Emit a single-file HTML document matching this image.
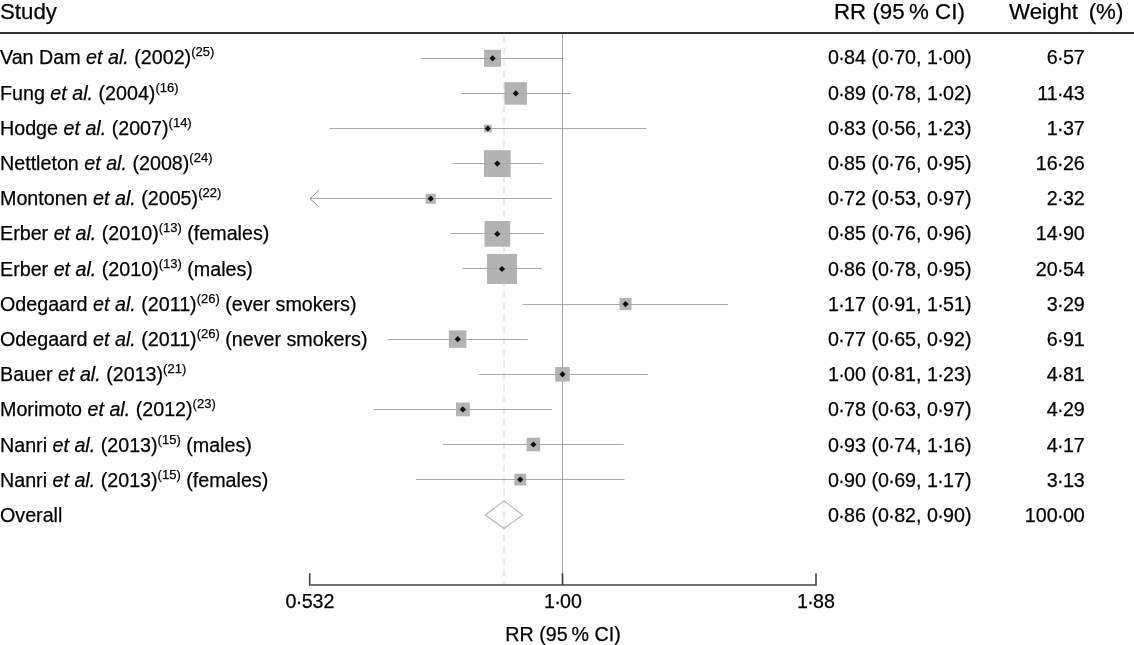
<!DOCTYPE html>
<html><head><meta charset="utf-8"><style>
html,body{margin:0;padding:0;background:#fff;width:1134px;height:645px;overflow:hidden}
svg{display:block;will-change:transform}
text{font-family:"Liberation Sans",sans-serif;fill:#000;stroke:#000;stroke-width:0.25px}
.t{font-size:19.7px}
.h{font-size:22.3px}
.s{font-size:13px}
</style></head><body>
<svg width="1134" height="645" viewBox="0 0 1134 645">
<text x="0" y="19" class="h">Study</text>
<text x="834" y="19" class="h">RR (95&#8201;% CI)</text>
<text x="1009" y="19" class="h">Weight&#8201; (%)</text>
<rect x="0" y="32" width="1134" height="2" fill="#333"/>
<rect x="562.0" y="34" width="1" height="551" fill="#aaa"/>
<line x1="504" y1="36" x2="504" y2="584" stroke="#d4d4d4" stroke-width="1" stroke-dasharray="7,4.6"/>
<text x="0" y="64.3" class="t">Van Dam <tspan font-style="italic">et al.</tspan> (2002)<tspan class="s" dy="-8">(25)</tspan><tspan dy="8"></tspan></text>
<text x="828" y="64.3" class="t">0<tspan dx="-0.7">·</tspan><tspan dx="-0.7">84 (0</tspan><tspan dx="-0.7">·</tspan><tspan dx="-0.7">70, 1</tspan><tspan dx="-0.7">·</tspan><tspan dx="-0.7">00)</tspan></text>
<text x="1084.8" y="64.3" class="t" text-anchor="end">6<tspan dx="-0.7">·</tspan><tspan dx="-0.7">57</tspan></text>
<rect x="484.0" y="49.8" width="17.0" height="17.0" fill="#b3b3b3"/>
<rect x="420.8" y="58" width="142.7" height="1" fill="#aaa"/>
<path d="M489.5 58.3 L492.6 55.2 L495.7 58.3 L492.6 61.4 Z" fill="#111"/>
<text x="0" y="99.5" class="t">Fung <tspan font-style="italic">et al.</tspan> (2004)<tspan class="s" dy="-8">(16)</tspan><tspan dy="8"></tspan></text>
<text x="828" y="99.5" class="t">0<tspan dx="-0.7">·</tspan><tspan dx="-0.7">89 (0</tspan><tspan dx="-0.7">·</tspan><tspan dx="-0.7">78, 1</tspan><tspan dx="-0.7">·</tspan><tspan dx="-0.7">02)</tspan></text>
<text x="1084.8" y="99.5" class="t" text-anchor="end">11<tspan dx="-0.7">·</tspan><tspan dx="-0.7">43</tspan></text>
<rect x="504.5" y="82.2" width="22.5" height="22.5" fill="#b3b3b3"/>
<rect x="461.7" y="93" width="108.6" height="1" fill="#aaa"/>
<path d="M512.7 93.4 L515.8 90.3 L518.9 93.4 L515.8 96.5 Z" fill="#111"/>
<text x="0" y="134.7" class="t">Hodge <tspan font-style="italic">et al.</tspan> (2007)<tspan class="s" dy="-8">(14)</tspan><tspan dy="8"></tspan></text>
<text x="828" y="134.7" class="t">0<tspan dx="-0.7">·</tspan><tspan dx="-0.7">83 (0</tspan><tspan dx="-0.7">·</tspan><tspan dx="-0.7">56, 1</tspan><tspan dx="-0.7">·</tspan><tspan dx="-0.7">23)</tspan></text>
<text x="1084.8" y="134.7" class="t" text-anchor="end">1<tspan dx="-0.7">·</tspan><tspan dx="-0.7">37</tspan></text>
<rect x="483.9" y="124.6" width="7.8" height="7.8" fill="#b3b3b3"/>
<rect x="329.5" y="128" width="316.8" height="1" fill="#aaa"/>
<path d="M484.7 128.5 L487.8 125.4 L490.9 128.5 L487.8 131.6 Z" fill="#111"/>
<text x="0" y="169.9" class="t">Nettleton <tspan font-style="italic">et al.</tspan> (2008)<tspan class="s" dy="-8">(24)</tspan><tspan dy="8"></tspan></text>
<text x="828" y="169.9" class="t">0<tspan dx="-0.7">·</tspan><tspan dx="-0.7">85 (0</tspan><tspan dx="-0.7">·</tspan><tspan dx="-0.7">76, 0</tspan><tspan dx="-0.7">·</tspan><tspan dx="-0.7">95)</tspan></text>
<text x="1084.8" y="169.9" class="t" text-anchor="end">16<tspan dx="-0.7">·</tspan><tspan dx="-0.7">26</tspan></text>
<rect x="483.9" y="150.2" width="26.8" height="26.8" fill="#b3b3b3"/>
<rect x="452.6" y="163" width="90.5" height="1" fill="#aaa"/>
<path d="M494.2 163.6 L497.3 160.5 L500.4 163.6 L497.3 166.7 Z" fill="#111"/>
<text x="0" y="205.1" class="t">Montonen <tspan font-style="italic">et al.</tspan> (2005)<tspan class="s" dy="-8">(22)</tspan><tspan dy="8"></tspan></text>
<text x="828" y="205.1" class="t">0<tspan dx="-0.7">·</tspan><tspan dx="-0.7">72 (0</tspan><tspan dx="-0.7">·</tspan><tspan dx="-0.7">53, 0</tspan><tspan dx="-0.7">·</tspan><tspan dx="-0.7">97)</tspan></text>
<text x="1084.8" y="205.1" class="t" text-anchor="end">2<tspan dx="-0.7">·</tspan><tspan dx="-0.7">32</tspan></text>
<rect x="425.7" y="193.7" width="10.1" height="10.1" fill="#b3b3b3"/>
<rect x="310.0" y="198" width="242.0" height="1" fill="#aaa"/>
<path d="M427.6 198.7 L430.7 195.6 L433.8 198.7 L430.7 201.8 Z" fill="#111"/>
<path d="M319 190.3 L310 198.7 L319 207.1" fill="none" stroke="#888" stroke-width="1"/>
<text x="0" y="240.3" class="t">Erber <tspan font-style="italic">et al.</tspan> (2010)<tspan class="s" dy="-8">(13)</tspan><tspan dy="8"> (females)</tspan></text>
<text x="828" y="240.3" class="t">0<tspan dx="-0.7">·</tspan><tspan dx="-0.7">85 (0</tspan><tspan dx="-0.7">·</tspan><tspan dx="-0.7">76, 0</tspan><tspan dx="-0.7">·</tspan><tspan dx="-0.7">96)</tspan></text>
<text x="1084.8" y="240.3" class="t" text-anchor="end">14<tspan dx="-0.7">·</tspan><tspan dx="-0.7">90</tspan></text>
<rect x="484.5" y="221.0" width="25.7" height="25.7" fill="#b3b3b3"/>
<rect x="450.6" y="233" width="93.4" height="1" fill="#aaa"/>
<path d="M494.2 233.9 L497.3 230.8 L500.4 233.9 L497.3 237.0 Z" fill="#111"/>
<text x="0" y="275.5" class="t">Erber <tspan font-style="italic">et al.</tspan> (2010)<tspan class="s" dy="-8">(13)</tspan><tspan dy="8"> (males)</tspan></text>
<text x="828" y="275.5" class="t">0<tspan dx="-0.7">·</tspan><tspan dx="-0.7">86 (0</tspan><tspan dx="-0.7">·</tspan><tspan dx="-0.7">78, 0</tspan><tspan dx="-0.7">·</tspan><tspan dx="-0.7">95)</tspan></text>
<text x="1084.8" y="275.5" class="t" text-anchor="end">20<tspan dx="-0.7">·</tspan><tspan dx="-0.7">54</tspan></text>
<rect x="486.9" y="253.9" width="30.1" height="30.1" fill="#b3b3b3"/>
<rect x="462.5" y="268" width="79.5" height="1" fill="#aaa"/>
<path d="M498.9 269.0 L502.0 265.9 L505.1 269.0 L502.0 272.1 Z" fill="#111"/>
<text x="0" y="310.7" class="t">Odegaard <tspan font-style="italic">et al.</tspan> (2011)<tspan class="s" dy="-8">(26)</tspan><tspan dy="8"> (ever smokers)</tspan></text>
<text x="828" y="310.7" class="t">1<tspan dx="-0.7">·</tspan><tspan dx="-0.7">17 (0</tspan><tspan dx="-0.7">·</tspan><tspan dx="-0.7">91, 1</tspan><tspan dx="-0.7">·</tspan><tspan dx="-0.7">51)</tspan></text>
<text x="1084.8" y="310.7" class="t" text-anchor="end">3<tspan dx="-0.7">·</tspan><tspan dx="-0.7">29</tspan></text>
<rect x="619.4" y="298.0" width="12.1" height="12.1" fill="#b3b3b3"/>
<rect x="522.6" y="304" width="205.2" height="1" fill="#aaa"/>
<path d="M622.4 304.1 L625.5 301.0 L628.6 304.1 L625.5 307.2 Z" fill="#111"/>
<text x="0" y="345.9" class="t">Odegaard <tspan font-style="italic">et al.</tspan> (2011)<tspan class="s" dy="-8">(26)</tspan><tspan dy="8"> (never smokers)</tspan></text>
<text x="828" y="345.9" class="t">0<tspan dx="-0.7">·</tspan><tspan dx="-0.7">77 (0</tspan><tspan dx="-0.7">·</tspan><tspan dx="-0.7">65, 0</tspan><tspan dx="-0.7">·</tspan><tspan dx="-0.7">92)</tspan></text>
<text x="1084.8" y="345.9" class="t" text-anchor="end">6<tspan dx="-0.7">·</tspan><tspan dx="-0.7">91</tspan></text>
<rect x="448.9" y="330.4" width="17.5" height="17.5" fill="#b3b3b3"/>
<rect x="387.9" y="339" width="139.6" height="1" fill="#aaa"/>
<path d="M454.6 339.2 L457.7 336.1 L460.8 339.2 L457.7 342.3 Z" fill="#111"/>
<text x="0" y="381.1" class="t">Bauer <tspan font-style="italic">et al.</tspan> (2013)<tspan class="s" dy="-8">(21)</tspan><tspan dy="8"></tspan></text>
<text x="828" y="381.1" class="t">1<tspan dx="-0.7">·</tspan><tspan dx="-0.7">00 (0</tspan><tspan dx="-0.7">·</tspan><tspan dx="-0.7">81, 1</tspan><tspan dx="-0.7">·</tspan><tspan dx="-0.7">23)</tspan></text>
<text x="1084.8" y="381.1" class="t" text-anchor="end">4<tspan dx="-0.7">·</tspan><tspan dx="-0.7">81</tspan></text>
<rect x="555.2" y="367.0" width="14.6" height="14.6" fill="#b3b3b3"/>
<rect x="478.6" y="374" width="169.3" height="1" fill="#aaa"/>
<path d="M559.4 374.3 L562.5 371.2 L565.6 374.3 L562.5 377.4 Z" fill="#111"/>
<text x="0" y="416.3" class="t">Morimoto <tspan font-style="italic">et al.</tspan> (2012)<tspan class="s" dy="-8">(23)</tspan><tspan dy="8"></tspan></text>
<text x="828" y="416.3" class="t">0<tspan dx="-0.7">·</tspan><tspan dx="-0.7">78 (0</tspan><tspan dx="-0.7">·</tspan><tspan dx="-0.7">63, 0</tspan><tspan dx="-0.7">·</tspan><tspan dx="-0.7">97)</tspan></text>
<text x="1084.8" y="416.3" class="t" text-anchor="end">4<tspan dx="-0.7">·</tspan><tspan dx="-0.7">29</tspan></text>
<rect x="456.0" y="402.5" width="13.8" height="13.8" fill="#b3b3b3"/>
<rect x="373.4" y="409" width="178.6" height="1" fill="#aaa"/>
<path d="M459.7 409.4 L462.8 406.3 L465.9 409.4 L462.8 412.5 Z" fill="#111"/>
<text x="0" y="451.5" class="t">Nanri <tspan font-style="italic">et al.</tspan> (2013)<tspan class="s" dy="-8">(15)</tspan><tspan dy="8"> (males)</tspan></text>
<text x="828" y="451.5" class="t">0<tspan dx="-0.7">·</tspan><tspan dx="-0.7">93 (0</tspan><tspan dx="-0.7">·</tspan><tspan dx="-0.7">74, 1</tspan><tspan dx="-0.7">·</tspan><tspan dx="-0.7">16)</tspan></text>
<text x="1084.8" y="451.5" class="t" text-anchor="end">4<tspan dx="-0.7">·</tspan><tspan dx="-0.7">17</tspan></text>
<rect x="526.6" y="437.7" width="13.6" height="13.6" fill="#b3b3b3"/>
<rect x="442.9" y="444" width="180.8" height="1" fill="#aaa"/>
<path d="M530.3 444.5 L533.4 441.4 L536.5 444.5 L533.4 447.6 Z" fill="#111"/>
<text x="0" y="486.7" class="t">Nanri <tspan font-style="italic">et al.</tspan> (2013)<tspan class="s" dy="-8">(15)</tspan><tspan dy="8"> (females)</tspan></text>
<text x="828" y="486.7" class="t">0<tspan dx="-0.7">·</tspan><tspan dx="-0.7">90 (0</tspan><tspan dx="-0.7">·</tspan><tspan dx="-0.7">69, 1</tspan><tspan dx="-0.7">·</tspan><tspan dx="-0.7">17)</tspan></text>
<text x="1084.8" y="486.7" class="t" text-anchor="end">3<tspan dx="-0.7">·</tspan><tspan dx="-0.7">13</tspan></text>
<rect x="514.4" y="473.7" width="11.8" height="11.8" fill="#b3b3b3"/>
<rect x="415.8" y="479" width="208.8" height="1" fill="#aaa"/>
<path d="M517.1 479.6 L520.2 476.5 L523.3 479.6 L520.2 482.7 Z" fill="#111"/>
<text x="0" y="521.9" class="t">Overall</text>
<text x="828" y="521.9" class="t">0<tspan dx="-0.7">·</tspan><tspan dx="-0.7">86 (0</tspan><tspan dx="-0.7">·</tspan><tspan dx="-0.7">82, 0</tspan><tspan dx="-0.7">·</tspan><tspan dx="-0.7">90)</tspan></text>
<text x="1084.8" y="521.9" class="t" text-anchor="end">100<tspan dx="-0.7">·</tspan><tspan dx="-0.7">00</tspan></text>
<path d="M504.1 500.9 L522.7 515 L504.1 528.5 L485.2 515 Z" fill="none" stroke="#b2b2b2" stroke-width="1.1"/>
<path d="M309.7 573.3 V585 H816 V573.3" fill="none" stroke="#444" stroke-width="1.6"/>
<rect x="561.7" y="573.3" width="1.7" height="11.7" fill="#444"/>
<text x="310" y="608.4" class="t" text-anchor="middle">0<tspan dx="-0.7">·</tspan><tspan dx="-0.7">532</tspan></text>
<text x="563" y="608.4" class="t" text-anchor="middle">1<tspan dx="-0.7">·</tspan><tspan dx="-0.7">00</tspan></text>
<text x="816" y="608.4" class="t" text-anchor="middle">1<tspan dx="-0.7">·</tspan><tspan dx="-0.7">88</tspan></text>
<text x="563" y="640.5" class="t" text-anchor="middle">RR (95&#8201;% CI)</text>
</svg>
</body></html>
